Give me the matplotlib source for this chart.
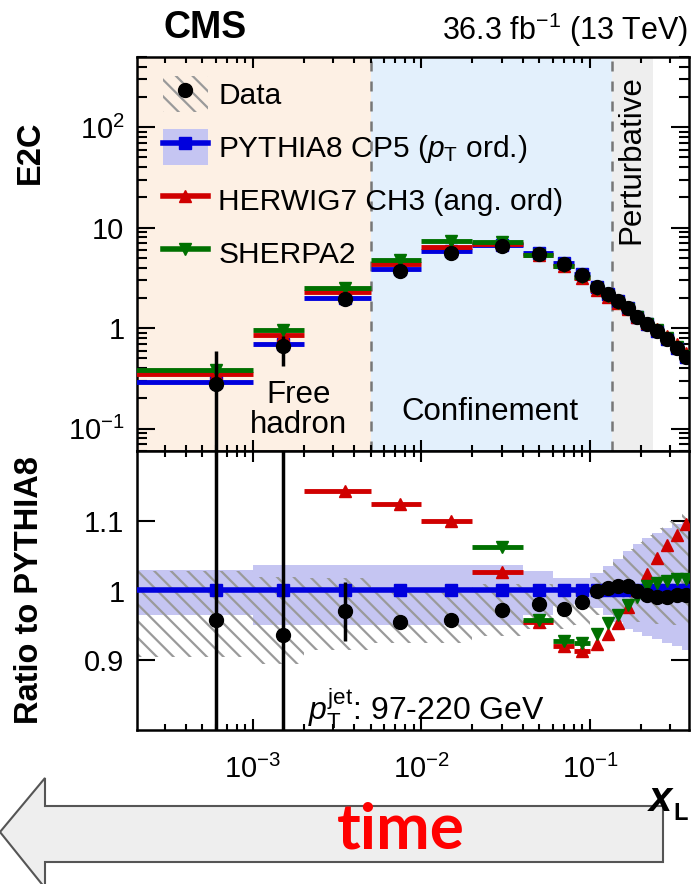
import numpy as np
import matplotlib
matplotlib.use('Agg')
import matplotlib.pyplot as plt
from matplotlib.patches import Patch, Polygon
from matplotlib.lines import Line2D
from matplotlib.ticker import FixedLocator, FixedFormatter, LogLocator, NullFormatter

plt.rcParams['font.family'] = ['Liberation Sans', 'DejaVu Sans']
plt.rcParams['mathtext.fontset'] = 'custom'
plt.rcParams['mathtext.rm'] = 'Liberation Sans'
plt.rcParams['mathtext.it'] = 'Liberation Sans:italic'
plt.rcParams['mathtext.bf'] = 'Liberation Sans:bold'
plt.rcParams['hatch.linewidth'] = 1.6

# x_L binning (bin edges and marker positions)
edges = [1e-4, 1e-3, 2e-3, 5e-3, 1e-2, 2e-2, 4e-2, 6e-2, 8e-2, 0.1,
         0.119, 0.137, 0.157, 0.179, 0.204, 0.233, 0.267, 0.306, 0.35, 0.4]
xc = [6e-4, 1.5e-3, 3.5e-3, 7.5e-3, 1.5e-2, 3e-2, 5e-2, 7e-2, 9e-2, 0.11,
      0.128, 0.147, 0.168, 0.19, 0.218, 0.25, 0.286, 0.328, 0.372]

# E2C (upper panel)
data = [0.28, 0.66, 1.95, 3.7, 5.6, 6.6, 5.5, 4.4, 3.4, 2.6,
        2.2, 1.86, 1.6, 1.3, 1.1, 0.93, 0.78, 0.63, 0.52]
data_up = [0.31, 0.17, 0.06, 0.05, 0.05, 0.05, 0.04, 0.03, 0.03, 0.02,
           0.02, 0.02, 0.02, 0.01, 0.01, 0.01, 0.01, 0.01, 0.01]
data_dn = [0.279, 0.24, 0.06, 0.05, 0.05, 0.05, 0.04, 0.03, 0.03, 0.02,
           0.02, 0.02, 0.02, 0.01, 0.01, 0.01, 0.01, 0.01, 0.01]
pythia = [0.29, 0.70, 2.0, 3.85, 5.85, 6.8, 5.6, 4.5, 3.45, 2.6,
          2.2, 1.85, 1.6, 1.3, 1.1, 0.94, 0.79, 0.64, 0.52]
herwig = [0.35, 0.85, 2.28, 4.33, 6.45, 6.95, 5.35, 4.15, 3.15, 2.4,
          2.06, 1.77, 1.56, 1.3, 1.12, 0.98, 0.84, 0.69, 0.57]
sherpa = [0.38, 0.95, 2.5, 4.8, 7.3, 7.2, 5.35, 4.15, 3.2, 2.45,
          2.1, 1.78, 1.57, 1.29, 1.11, 0.95, 0.8, 0.65, 0.53]

# ratio to PYTHIA8 (lower panel)
data_r = [0.958, 0.936, 0.970, 0.955, 0.957, 0.972, 0.980, 0.973, 0.983, 0.999,
          1.004, 1.006, 1.006, 0.999, 0.994, 0.991, 0.991, 0.994, 0.994]
data_r_err = [0.5, 0.5, 0.042, 0.004, 0.004, 0.003, 0.003, 0.003, 0.003, 0.002,
              0.002, 0.002, 0.002, 0.002, 0.002, 0.002, 0.002, 0.002, 0.002]
herwig_r = [1.25, 1.25, 1.142, 1.124, 1.10, 1.027, 0.955, 0.92, 0.913, 0.923,
            0.938, 0.954, 0.976, 1.001, 1.024, 1.046, 1.065, 1.080, 1.095]
sherpa_r = [1.3, 1.3, 1.25, 1.24, 1.25, 1.063, 0.958, 0.927, 0.925, 0.938,
            0.953, 0.965, 0.979, 0.991, 1.006, 1.011, 1.013, 1.016, 1.016]
py_lo = [0.965, 0.950, 0.950, 0.950, 0.950, 0.950, 0.965, 0.978, 0.980, 0.975,
         0.965, 0.955, 0.945, 0.940, 0.935, 0.930, 0.925, 0.920, 0.915]
py_hi = [1.030, 1.036, 1.036, 1.036, 1.036, 1.036, 1.028, 1.018, 1.018, 1.025,
         1.035, 1.045, 1.057, 1.067, 1.075, 1.083, 1.090, 1.095, 1.100]
sys_lo = [0.905, 0.895, 0.915, 0.925, 0.925, 0.935, 0.945, 0.945, 0.950, 0.965,
          0.965, 0.960, 0.958, 0.955, 0.953, 0.952, 0.950, 0.950, 0.950]
sys_hi = [1.028, 1.020, 1.018, 1.000, 1.000, 1.010, 1.010, 1.005, 1.010, 1.020,
          1.030, 1.045, 1.060, 1.070, 1.080, 1.090, 1.100, 1.105, 1.110]

c_py = '#0000DD'
c_hw = '#D00000'
c_sh = '#007000'
c_band = '#C5C5F2'
c_hatch = '#9A9A9A'

W, H = 691, 884
L, R = 137, 689
T1, B1, B2 = 57, 451, 730

fig = plt.figure(figsize=(W / 100, H / 100), dpi=100)
ax1 = fig.add_axes([L / W, 1 - B1 / H, (R - L) / W, (B1 - T1) / H])
ax2 = fig.add_axes([L / W, 1 - B2 / H, (R - L) / W, (B2 - B1) / H])

xmin, xmax = 2.05e-4, 0.387
lo_e = edges[:-1]
hi_e = edges[1:]

# ---- upper panel
ax1.axvspan(1e-5, 5e-3, color='#FDF0E4', lw=0, zorder=0)
ax1.axvspan(5e-3, 0.135, color='#E3F0FC', lw=0, zorder=0)
ax1.axvspan(0.135, 0.237, color='#EEEEEE', lw=0, zorder=0)
for xv in (5e-3, 0.135):
    ax1.axvline(xv, color='#777777', ls=(0, (4, 4)), lw=1.8, zorder=1)

for vals, col, mk, ms in ((pythia, c_py, 's', 8), (herwig, c_hw, '^', 9),
                          (sherpa, c_sh, 'v', 9)):
    ax1.hlines(vals, lo_e, hi_e, colors=col, lw=3.5, zorder=3)
    ax1.plot(xc, vals, ls='none', marker=mk, color=col, ms=ms, zorder=3)
ax1.errorbar(xc, data, yerr=[data_dn, data_up], fmt='o', color='k', ms=10,
             elinewidth=2.5, capsize=0, zorder=6)

ax1.set_xscale('log')
ax1.set_yscale('log')
ax1.set_xlim(xmin, xmax)
ax1.set_ylim(0.06, 500)
ax1.yaxis.set_major_locator(FixedLocator([0.1, 1, 10, 100]))
ax1.yaxis.set_major_formatter(FixedFormatter([r'$10^{-1}$', '1', '10', r'$10^{2}$']))
ax1.yaxis.set_minor_locator(LogLocator(base=10, subs=np.arange(2, 10), numticks=20))
ax1.yaxis.set_minor_formatter(NullFormatter())
ax1.tick_params(labelbottom=False)

ax1.text(0.293, 0.105, 'Free\nhadron', transform=ax1.transAxes, fontsize=22.5,
         ha='center', va='center', linespacing=1.0)
ax1.text(0.64, 0.10, 'Confinement', transform=ax1.transAxes, fontsize=22.5,
         ha='center', va='center')
ax1.text(0.895, 0.955, 'Perturbative', transform=ax1.transAxes, fontsize=22.5,
         rotation=90, ha='center', va='top')

handles = [
    (Patch(facecolor='none', edgecolor=c_hatch, hatch='\\\\', lw=0),
     Line2D([], [], ls='none', marker='o', color='k', ms=10)),
    (Patch(facecolor=c_band, edgecolor='none'),
     Line2D([], [], color=c_py, lw=4, marker='s', ms=8)),
    Line2D([], [], color=c_hw, lw=4, marker='^', ms=9),
    Line2D([], [], color=c_sh, lw=4, marker='v', ms=9),
]
labels = ['Data', r'PYTHIA8 CP5 ($p_\mathrm{T}$ ord.)', 'HERWIG7 CH3 (ang. ord)', 'SHERPA2']
ax1.legend(handles, labels, loc='upper left', bbox_to_anchor=(0.047, 0.952),
           frameon=False, fontsize=21.5, handlelength=1.5, handleheight=1.5,
           labelspacing=0.55, handletextpad=0.35, borderpad=0, borderaxespad=0)

# ---- lower panel
ax2.fill_between(edges, py_lo + [py_lo[-1]], py_hi + [py_hi[-1]], step='post',
                 color=c_band, lw=0, zorder=1)
ax2.fill_between(edges, sys_lo + [sys_lo[-1]], sys_hi + [sys_hi[-1]], step='post',
                 facecolor='none', edgecolor=c_hatch, hatch='\\\\', lw=0, zorder=2)
ax2.hlines(np.ones(len(xc)), lo_e, hi_e, colors=c_py, lw=4, zorder=3)
ax2.plot(xc, np.ones(len(xc)), ls='none', marker='s', color=c_py, ms=8, zorder=3)
for vals, col, mk in ((herwig_r, c_hw, '^'), (sherpa_r, c_sh, 'v')):
    ax2.hlines(vals[:9], lo_e[:9], hi_e[:9], colors=col, lw=3.5, zorder=4)
    ax2.plot(xc, vals, ls='none', marker=mk, color=col, ms=9, zorder=4)
ax2.errorbar(xc, data_r, yerr=data_r_err, fmt='o', color='k', ms=10,
             elinewidth=2.5, capsize=0, zorder=6)

ax2.set_xscale('log')
ax2.set_xlim(xmin, xmax)
ax2.set_ylim(0.8, 1.2)
ax2.yaxis.set_major_locator(FixedLocator([0.9, 1.0, 1.1]))
ax2.yaxis.set_major_formatter(FixedFormatter(['0.9', '1', '1.1']))
ax2.text(0.31, 0.035, r'$p_\mathrm{T}^\mathrm{jet}$: 97-220 GeV', transform=ax2.transAxes,
         fontsize=23, ha='left', va='baseline')

for ax in (ax1, ax2):
    ax.xaxis.set_minor_locator(LogLocator(base=10, subs=np.arange(2, 10), numticks=20))
    ax.xaxis.set_minor_formatter(NullFormatter())
    ax.tick_params(which='both', direction='in', top=True, right=True, width=1.5)
    ax.tick_params(axis='y', which='major', length=13, labelsize=21, pad=9)
    ax.tick_params(axis='y', which='minor', length=7)
    ax.tick_params(axis='x', which='major', length=8, labelsize=21, pad=18)
    ax.tick_params(axis='x', which='minor', length=4)
    for s in ax.spines.values():
        s.set_linewidth(1.8)

# ---- labels around the frame
fig.text(205 / W, 1 - 28 / H, 'CMS', weight='bold', fontsize=27, ha='center', va='center')
fig.text(688 / W, 1 - 30 / H, r'36.3 fb$^{-1}$ (13 TeV)', fontsize=22, ha='right', va='center')
fig.text(30 / W, 1 - 152 / H, 'E2C', rotation=90, weight='bold', fontsize=23.5,
         ha='center', va='center')
fig.text(30 / W, 1 - 590 / H, 'Ratio to PYTHIA8', rotation=90, weight='bold', fontsize=23.5,
         ha='center', va='center')
fig.text(649 / W, 1 - 800 / H, 'x', style='italic', weight='bold', fontsize=30,
         ha='left', va='center')
fig.text(673 / W, 1 - 814 / H, 'L', weight='bold', fontsize=17, ha='left', va='center')

# ---- "time" arrow pointing to small x_L
arrow_px = [(0, 832), (45, 778), (45, 806), (663, 806), (663, 862), (45, 862), (45, 888)]
arrow = Polygon([(x / W, 1 - y / H) for x, y in arrow_px], closed=True,
                transform=fig.transFigure, facecolor='#EEEEEE', edgecolor='#555555',
                lw=1.5, clip_on=False)
fig.patches.append(arrow)
fig.text(401 / W, 1 - 830 / H, 'time', color='#FF0000', weight='bold', fontsize=46,
         family=['Lato', 'DejaVu Sans'], ha='center', va='center')

fig.savefig('out.png', dpi=100)
